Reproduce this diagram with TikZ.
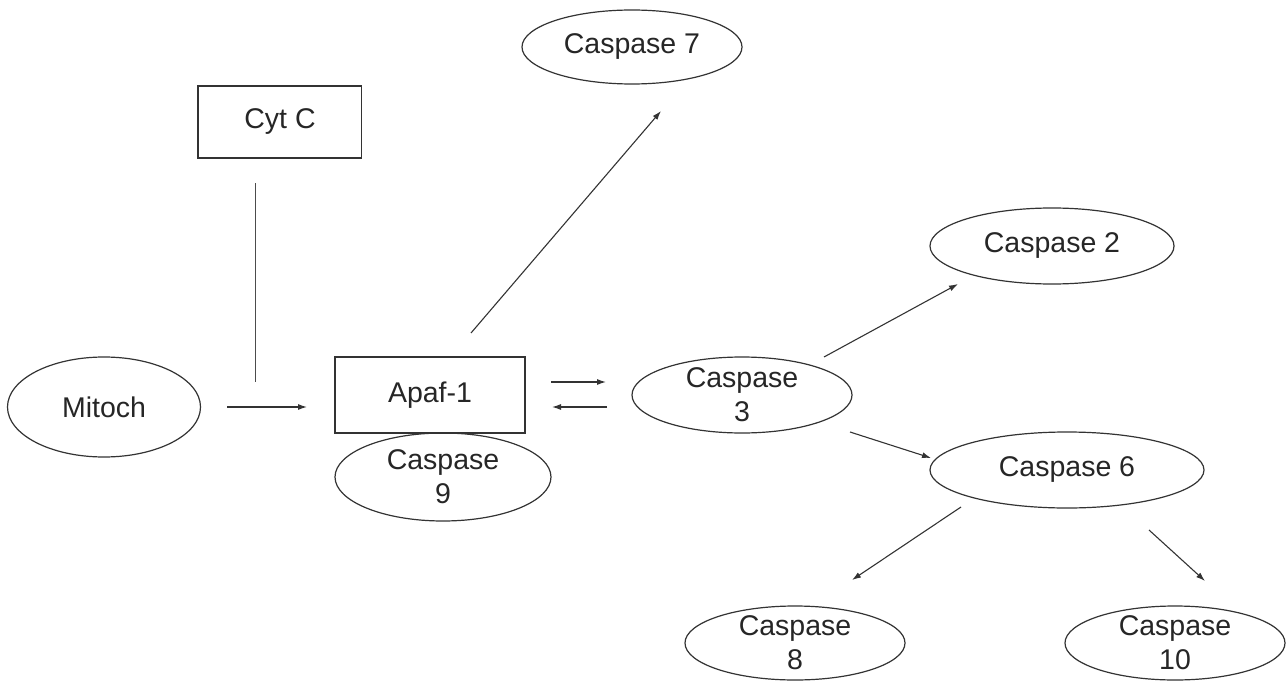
\documentclass[tikz,border=0pt]{standalone}
\usepackage{fontspec}
\setmainfont{Liberation Sans}
\usetikzlibrary{shapes.geometric,arrows.meta}
\begin{document}
\begin{tikzpicture}[x=1pt,y=-1pt,
  txt/.style={font=\fontsize{28.5}{34}\selectfont, align=center, inner sep=0pt, text=black!85},
  ell/.style={draw=black!80, ellipse, line width=1.2pt, inner sep=0pt},
  box/.style={draw=black!80, rectangle, line width=1.2pt, inner sep=0pt},
  arr/.style={draw=black!80, line width=1.1pt, -{Latex[length=9pt,width=6pt]}},
  ln/.style={draw=black!70, line width=1pt}]
\useasboundingbox (0,0) rectangle (1287,682);
% shapes
\node[ell, minimum width=220pt, minimum height=74pt] (c7) at (632,47) {};
\node[box, minimum width=163pt, minimum height=72pt] (cytc) at (280,122) {};
\node[ell, minimum width=193pt, minimum height=100pt] (mito) at (104,407) {};
\node[box, minimum width=190pt, minimum height=76pt] (apaf) at (430,395) {};
\node[ell, minimum width=216pt, minimum height=88pt] (c9) at (443,477) {};
\node[ell, minimum width=244pt, minimum height=76pt] (c2) at (1052,246) {};
\node[ell, minimum width=220pt, minimum height=76pt] (c3) at (742,395) {};
\node[ell, minimum width=274pt, minimum height=76pt] (c6) at (1067,470) {};
\node[ell, minimum width=220pt, minimum height=74pt] (c8) at (795,643) {};
\node[ell, minimum width=220pt, minimum height=74pt] (c10) at (1175,643) {};
% thicker left edge of Cyt C box
\draw[line width=2.4pt, black!80] (cytc.north west) -- (cytc.south west);
% texts
\node[txt] (c7t) at (c7) {Caspase 7};
\node[txt] (cytct) at (cytc) {Cyt C};
\node[txt] (mitot) at (mito) {Mitoch};
\node[txt] (apaft) at (apaf) {Apaf-1};
\node[txt] (c9t) at (c9) {Caspase\\9};
\node[txt] (c2t) at (c2) {Caspase 2};
\node[txt] (c3t) at (c3) {Caspase\\3};
\node[txt] (c6t) at (c6) {Caspase 6};
\node[txt] (c8t) at (c8) {Caspase\\8};
\node[txt] (c10t) at (c10) {Caspase\\10};
% connector end points (connectors float free of the shapes)
\coordinate (cyA) at (255,183);
\coordinate (cyB) at (255,382);
\coordinate (miA) at (227,407);
\coordinate (miB) at (307,407);
\coordinate (a7A) at (471,333);
\coordinate (a7B) at (661,111);
\coordinate (a3A) at (551,382);
\coordinate (a3B) at (606,382);
\coordinate (b3A) at (607,407);
\coordinate (b3B) at (552,407);
\coordinate (c2A) at (824,357);
\coordinate (c2B) at (958,284);
\coordinate (c6A) at (850,432);
\coordinate (c6B) at (931,458);
\coordinate (c8A) at (961,507);
\coordinate (c8B) at (852,580);
\coordinate (cxA) at (1149,530);
\coordinate (cxB) at (1205,581);
% connectors
\draw[ln] (cyA) -- (cyB);
\draw[arr] (miA) -- (miB);
\draw[arr] (a7A) -- (a7B);
\draw[arr] (a3A) -- (a3B);
\draw[arr] (b3A) -- (b3B);
\draw[arr] (c2A) -- (c2B);
\draw[arr] (c6A) -- (c6B);
\draw[arr] (c8A) -- (c8B);
\draw[arr] (cxA) -- (cxB);
\end{tikzpicture}
\end{document}
